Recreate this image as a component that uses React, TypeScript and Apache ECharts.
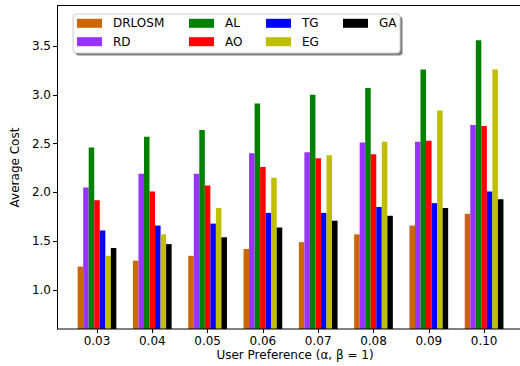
import React, { useEffect, useRef } from "react";
import * as echarts from "echarts";

// User preference values on the x axis
const categories = ["0.03", "0.04", "0.05", "0.06", "0.07", "0.08", "0.09", "0.10"];

// Average cost per method
const drlosm = [1.24, 1.3, 1.35, 1.42, 1.49, 1.57, 1.66, 1.78];
const rd = [2.05, 2.19, 2.19, 2.4, 2.41, 2.51, 2.52, 2.69];
const al = [2.46, 2.57, 2.64, 2.91, 3.0, 3.07, 3.26, 3.56];
const ao = [1.92, 2.01, 2.07, 2.26, 2.35, 2.39, 2.53, 2.68];
const tg = [1.61, 1.66, 1.68, 1.79, 1.79, 1.85, 1.89, 2.01];
const eg = [1.35, 1.57, 1.84, 2.15, 2.38, 2.52, 2.84, 3.26];
const ga = [1.43, 1.47, 1.54, 1.64, 1.71, 1.76, 1.84, 1.93];

const yTicks = [1.0, 1.5, 2.0, 2.5, 3.0, 3.5];

const methods = [
  { name: "DRLOSM", data: drlosm, color: "#CC6600" },
  { name: "RD", data: rd, color: "#9933FF" },
  { name: "AL", data: al, color: "#008000" },
  { name: "AO", data: ao, color: "#FF0000" },
  { name: "TG", data: tg, color: "#0000FF" },
  { name: "EG", data: eg, color: "#BFBF00" },
  { name: "GA", data: ga, color: "#000000" },
];

// Legend is laid out column by column, two entries per column
const legendColumns = [
  { names: ["DRLOSM", "RD"], left: 77 },
  { names: ["AL", "AO"], left: 189 },
  { names: ["TG", "EG"], left: 266 },
  { names: ["GA"], left: 343 },
];

const FONT = "DejaVu Sans";

export default function App() {
  const ref = useRef<HTMLDivElement>(null);

  useEffect(() => {
    if (!ref.current) return;
    const chart = echarts.init(ref.current, null, { renderer: "svg" });

    const option: any = {
      animation: false,
      backgroundColor: "#ffffff",
      textStyle: { fontFamily: FONT },
      grid: { left: 69.35, right: 8.25, top: 6, bottom: 37, containLabel: false },
      xAxis: {
        type: "category",
        data: categories,
        boundaryGap: true,
        axisLine: { show: false },
        axisTick: { show: true, alignWithLabel: true, length: 4, lineStyle: { color: "#000", width: 1 } },
        axisLabel: { interval: 0, margin: 6, color: "#000", fontSize: 12, fontFamily: FONT },
        splitLine: { show: false },
      },
      yAxis: {
        type: "value",
        min: 0.6,
        max: 3.91,
        offset: 12.35,
        name: "Average Cost",
        nameLocation: "middle",
        nameGap: 36,
        nameTextStyle: { color: "#000", fontSize: 12, fontFamily: FONT },
        axisLine: { show: true, lineStyle: { color: "#000", width: 1 } },
        axisTick: { show: true, length: 4, customValues: yTicks, lineStyle: { color: "#000", width: 1 } },
        axisLabel: {
          color: "#000",
          fontSize: 12,
          fontFamily: FONT,
          margin: 6,
          customValues: yTicks,
          formatter: (v: number) => v.toFixed(1),
        },
        splitLine: { show: false },
      },
      legend: legendColumns.map((col) => ({
        data: col.names,
        orient: "vertical",
        left: col.left,
        top: 16.3,
        itemWidth: 25,
        itemHeight: 9,
        itemGap: 4.4,
        padding: 0,
        icon: "rect",
        z: 10,
        selectedMode: false,
        textStyle: { fontSize: 12, fontFamily: FONT, color: "#000", lineHeight: 14, padding: [0, 0, 0, 6] },
      })),
      graphic: [
        {
          type: "rect",
          z: 5,
          shape: { x: 75.5, y: 16.5, width: 327, height: 39, r: 3 },
          style: { fill: "rgba(0,0,0,0.5)" },
        },
        {
          type: "rect",
          z: 6,
          shape: { x: 73, y: 14, width: 327, height: 39, r: 3 },
          style: { fill: "#ffffff", stroke: "#cccccc", lineWidth: 1 },
        },
        {
          type: "line",
          z: 4,
          shape: { x1: 57, y1: 5.5, x2: 520, y2: 5.5 },
          style: { stroke: "#000", lineWidth: 1 },
        },
        {
          type: "line",
          z: 4,
          shape: { x1: 57, y1: 329, x2: 520, y2: 329 },
          style: { stroke: "#000", lineWidth: 1 },
        },
        {
          type: "text",
          x: 295,
          y: 355,
          style: {
            text: "User Preference (α, β = 1)",
            fontSize: 12,
            fontFamily: FONT,
            fill: "#000",
            align: "center",
            verticalAlign: "middle",
          },
        },
      ],
      series: methods.map((m) => ({
        name: m.name,
        type: "bar",
        data: m.data,
        barGap: "0%",
        barCategoryGap: "30%",
        itemStyle: { color: m.color },
        clip: true,
      })),
    };

    chart.setOption(option);
    return () => chart.dispose();
  }, []);

  return (
    <div
      ref={ref}
      style={{ position: "absolute", left: 0, top: 0, width: 520, height: 366 }}
    />
  );
}
